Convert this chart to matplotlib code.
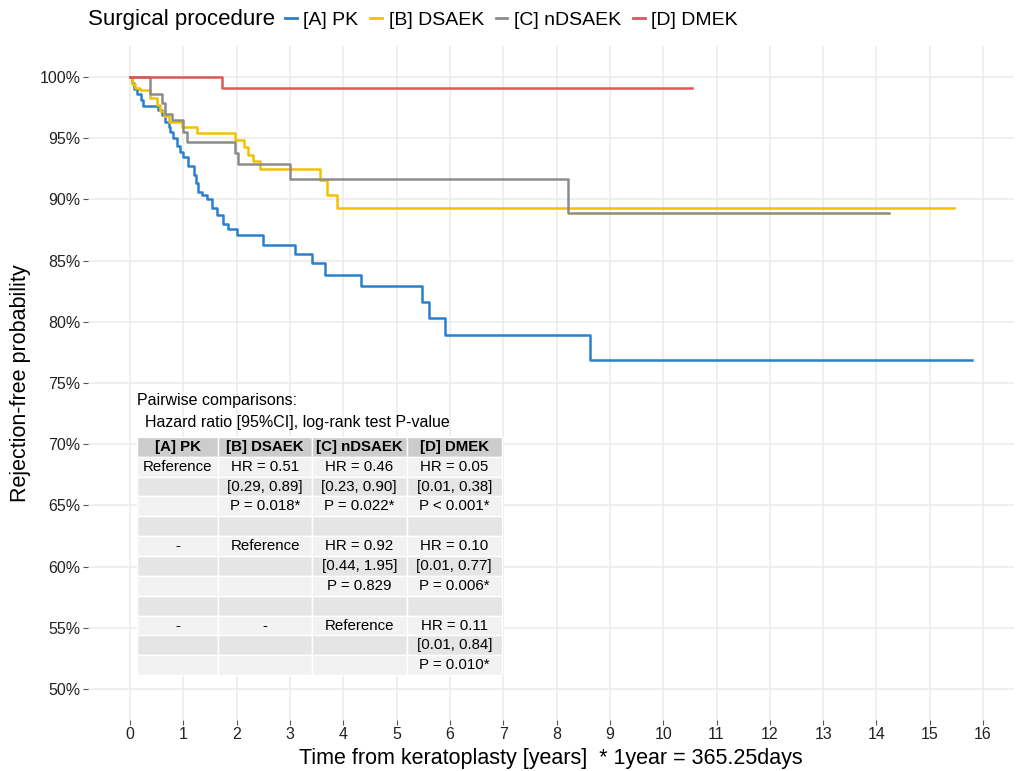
import matplotlib
matplotlib.use('Agg')
import matplotlib.pyplot as plt
from matplotlib.patches import Rectangle
from matplotlib.lines import Line2D
from matplotlib.ticker import FuncFormatter

plt.rcParams['font.family'] = ['Liberation Sans', 'DejaVu Sans']

# Grupos e cores
grupos = ['[A] PK', '[B] DSAEK', '[C] nDSAEK', '[D] DMEK']
cores = ['#2a7fcf', '#f2c200', '#8c8c8c', '#e05555']

# Curvas de Kaplan-Meier (anos, % livre de rejeição)
pk_tempo = [0, 0.03, 0.08, 0.12, 0.2, 0.25, 0.53, 0.59, 0.66, 0.72, 0.75, 0.81, 0.88,
            0.94, 1.0, 1.09, 1.19, 1.23, 1.28, 1.34, 1.44, 1.53, 1.63, 1.75, 1.84, 2.0,
            2.5, 3.1, 3.41, 3.66, 4.34, 5.47, 5.6, 5.91, 8.63, 15.79]
pk_surv = [100, 99.5, 99.0, 98.6, 98.1, 97.6, 97.3, 96.9, 96.35, 95.9, 95.5, 95.0, 94.4,
           93.9, 93.5, 92.7, 92.0, 91.3, 90.6, 90.4, 90.0, 89.3, 88.7, 88.0, 87.6, 87.1,
           86.3, 85.5, 84.8, 83.8, 82.9, 81.6, 80.3, 78.9, 76.9, 76.9]

dsaek_tempo = [0, 0.04, 0.1, 0.19, 0.38, 0.5, 0.56, 0.63, 0.72, 0.97, 1.25, 1.97, 2.13,
               2.22, 2.31, 2.44, 3.56, 3.69, 3.88, 15.45]
dsaek_surv = [100, 99.4, 99.1, 98.9, 98.3, 97.7, 97.2, 96.8, 96.35, 95.9, 95.4, 94.85, 94.3,
              93.6, 93.1, 92.5, 91.6, 90.4, 89.3, 89.3]

ndsaek_tempo = [0, 0.37, 0.6, 0.66, 0.78, 1.0, 1.06, 1.97, 2.03, 3.0, 8.21, 14.24]
ndsaek_surv = [100, 98.6, 97.9, 97.0, 96.5, 95.5, 94.7, 93.8, 92.9, 91.7, 88.9, 88.9]

dmek_tempo = [0, 1.72, 10.54]
dmek_surv = [100, 99.1, 99.1]

# Tabela de comparações pareadas
tab_cabecalho = ['[A] PK', '[B] DSAEK', '[C] nDSAEK', '[D] DMEK']
tab_linhas = [
    ['Reference', 'HR = 0.51', 'HR = 0.46', 'HR = 0.05'],
    ['', '[0.29, 0.89]', '[0.23, 0.90]', '[0.01, 0.38]'],
    ['', 'P = 0.018*', 'P = 0.022*', 'P < 0.001*'],
    ['', '', '', ''],
    ['-', 'Reference', 'HR = 0.92', 'HR = 0.10'],
    ['', '', '[0.44, 1.95]', '[0.01, 0.77]'],
    ['', '', 'P = 0.829', 'P = 0.006*'],
    ['', '', '', ''],
    ['-', '-', 'Reference', 'HR = 0.11'],
    ['', '', '', '[0.01, 0.84]'],
    ['', '', '', 'P = 0.010*'],
]

fig = plt.figure(figsize=(10.2, 7.71), dpi=100)
ax = fig.add_axes([0.0863, 0.0667, 0.9078, 0.8731])

curvas = [(pk_tempo, pk_surv), (dsaek_tempo, dsaek_surv),
          (ndsaek_tempo, ndsaek_surv), (dmek_tempo, dmek_surv)]
for (t, s), c in zip(curvas, cores):
    ax.step(t, s, where='post', color=c, lw=1.8, zorder=3)

ax.set_xlim(-0.79, 16.58)
ax.set_ylim(47.5, 102.5)
ax.set_xticks(range(0, 17))
ax.set_yticks(range(50, 101, 5))
ax.yaxis.set_major_formatter(FuncFormatter(lambda v, p: f'{v:.0f}%'))
ax.grid(color='#ebebeb', lw=1.1)
ax.set_axisbelow(True)
for sp in ax.spines.values():
    sp.set_visible(False)
ax.tick_params(length=3.5, width=0.8, color='#555555', labelsize=11.5,
               labelcolor='#222222', pad=2)
ax.set_xlabel('Time from keratoplasty [years]  * 1year = 365.25days', fontsize=15.5, labelpad=4)
ax.set_ylabel('Rejection-free probability', fontsize=15.5, labelpad=6)

# Tabela desenhada como retângulos + textos
ax.text(0.13, 73.6, 'Pairwise comparisons:', fontsize=11.5, va='center', zorder=5)
ax.text(0.28, 71.8, 'Hazard ratio [95%CI], log-rank test P-value', fontsize=11.5,
        va='center', zorder=5)
col_bordas = [0.126, 1.656, 3.408, 5.19, 6.97]
topo = 70.6
alt = 1.623
for i, linha in enumerate([tab_cabecalho] + tab_linhas):
    y0 = topo - (i + 1) * alt
    if i == 0:
        fundo = '#cccccc'
    elif i % 2 == 1:
        fundo = '#f2f2f2'
    else:
        fundo = '#e5e5e5'
    for j, txt in enumerate(linha):
        x0, x1 = col_bordas[j], col_bordas[j + 1]
        ax.add_patch(Rectangle((x0, y0), x1 - x0, alt, facecolor=fundo,
                               edgecolor='white', lw=1, zorder=4))
        ax.text((x0 + x1) / 2, y0 + alt / 2, txt, ha='center', va='center',
                fontsize=10.8, fontweight='bold' if i == 0 else 'normal', zorder=5)

# Legenda no topo
fig.text(88 / 1020, 1 - 20 / 771, 'Surgical procedure', fontsize=16, va='center', ha='left')
handles = [Line2D([], [], color=c, lw=2) for c in cores]
fig.legend(handles, grupos, ncol=4, loc='center left',
           bbox_to_anchor=(285 / 1020, 1 - 20 / 771), frameon=False, fontsize=14,
           handlelength=0.6, handletextpad=0.35, columnspacing=0.6,
           borderpad=0, borderaxespad=0)

fig.savefig('out.png', dpi=100)
